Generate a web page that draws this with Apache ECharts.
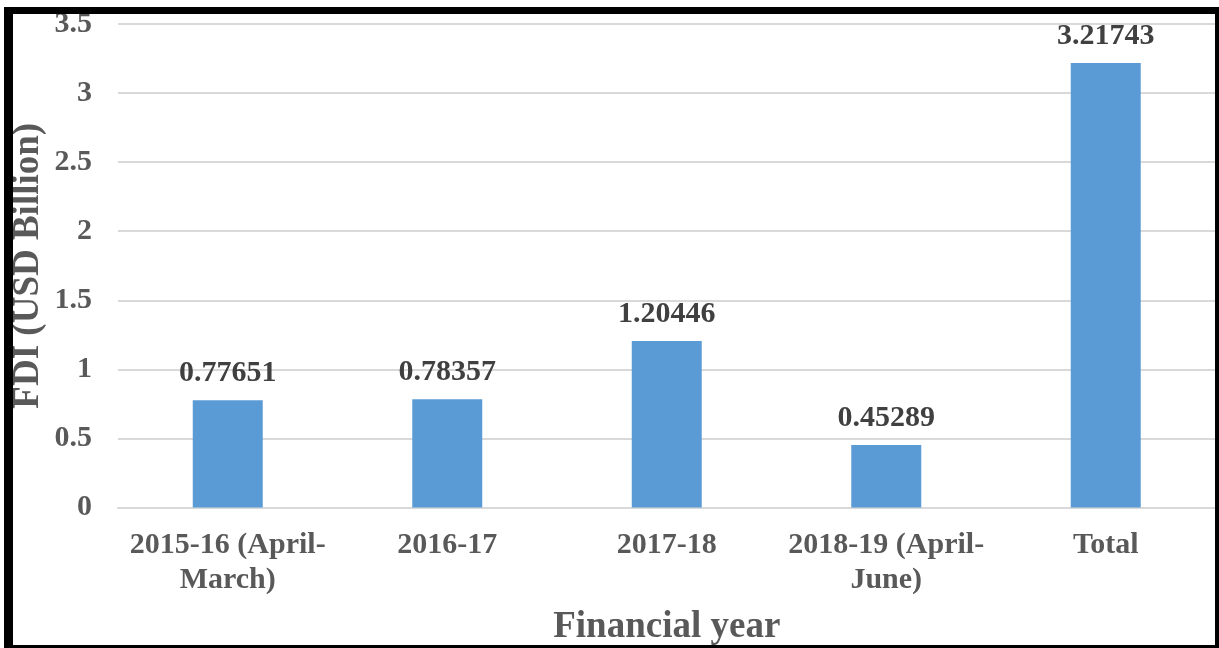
<!DOCTYPE html>
<html>
<head>
<meta charset="utf-8">
<title>FDI by Financial Year</title>
<script src="https://cdn.jsdelivr.net/npm/echarts@6/dist/echarts.min.js"></script>
<style>
  html, body { margin: 0; padding: 0; background: #ffffff; }
  #chart { width: 1219px; height: 648px; }
</style>
</head>
<body>
<div id="chart"></div>
<script>
// Financial years and FDI inflows (USD billion)
const categories = [
  '2015-16 (April-\nMarch)',
  '2016-17',
  '2017-18',
  '2018-19 (April-\nJune)',
  'Total'
];
const fdiValues = [0.77651, 0.78357, 1.20446, 0.45289, 3.21743];
const valueLabels = ['0.77651', '0.78357', '1.20446', '0.45289', '3.21743'];
const yTicks = { min: 0, max: 3.5, interval: 0.5 };

const textGray = '#595959';
const serif = '"Liberation Serif", "Times New Roman", "DejaVu Serif", serif';

const chart = echarts.init(document.getElementById('chart'), null, { renderer: 'canvas' });

chart.setOption({
  backgroundColor: '#ffffff',
  animation: false,
  grid: {
    left: 118, right: 3.5, top: 24, bottom: 140.5,
    containLabel: false,
    outerBoundsMode: 'none'
  },
  xAxis: {
    type: 'category',
    data: categories,
    name: 'Financial year',
    nameLocation: 'middle',
    nameGap: 101,
    nameMoveOverlap: false,
    nameTextStyle: { fontFamily: serif, fontWeight: 'bold', fontSize: 37, color: textGray },
    axisLine: { show: true, lineStyle: { color: '#d9d9d9', width: 2 } },
    axisTick: { show: false },
    axisLabel: {
      interval: 0,
      margin: 20,
      fontFamily: serif, fontWeight: 'bold', fontSize: 30, color: textGray,
      lineHeight: 35
    }
  },
  yAxis: {
    type: 'value',
    min: yTicks.min,
    max: yTicks.max,
    interval: yTicks.interval,
    name: 'FDI (USD Billion)',
    nameLocation: 'middle',
    nameGap: 71,
    nameRotate: 90,
    nameMoveOverlap: false,
    nameTextStyle: { fontFamily: serif, fontWeight: 'bold', fontSize: 37, color: textGray },
    axisLine: { show: false },
    axisTick: { show: false },
    splitLine: { show: true, lineStyle: { color: '#d9d9d9', width: 2 } },
    axisLabel: {
      margin: 26,
      fontFamily: serif, fontWeight: 'bold', fontSize: 30, color: textGray,
      formatter: v => String(v)
    }
  },
  series: [{
    type: 'bar',
    data: fdiValues,
    barWidth: 70,
    itemStyle: { color: '#5b9bd5' },
    label: {
      show: true,
      position: 'top',
      distance: 12,
      fontFamily: serif, fontWeight: 'bold', fontSize: 30, color: '#404040',
      formatter: p => valueLabels[p.dataIndex]
    }
  }],
  graphic: [
    // black frame around the figure
    { type: 'rect', shape: { x: 4, y: 7, width: 1215, height: 7 }, style: { fill: '#000' }, z: 100 },
    { type: 'rect', shape: { x: 4, y: 7, width: 9, height: 641 }, style: { fill: '#000' }, z: 100 },
    { type: 'rect', shape: { x: 1215, y: 7, width: 4, height: 641 }, style: { fill: '#000' }, z: 100 },
    { type: 'rect', shape: { x: 4, y: 645, width: 1215, height: 3 }, style: { fill: '#000' }, z: 100 }
  ]
});
</script>
</body>
</html>
